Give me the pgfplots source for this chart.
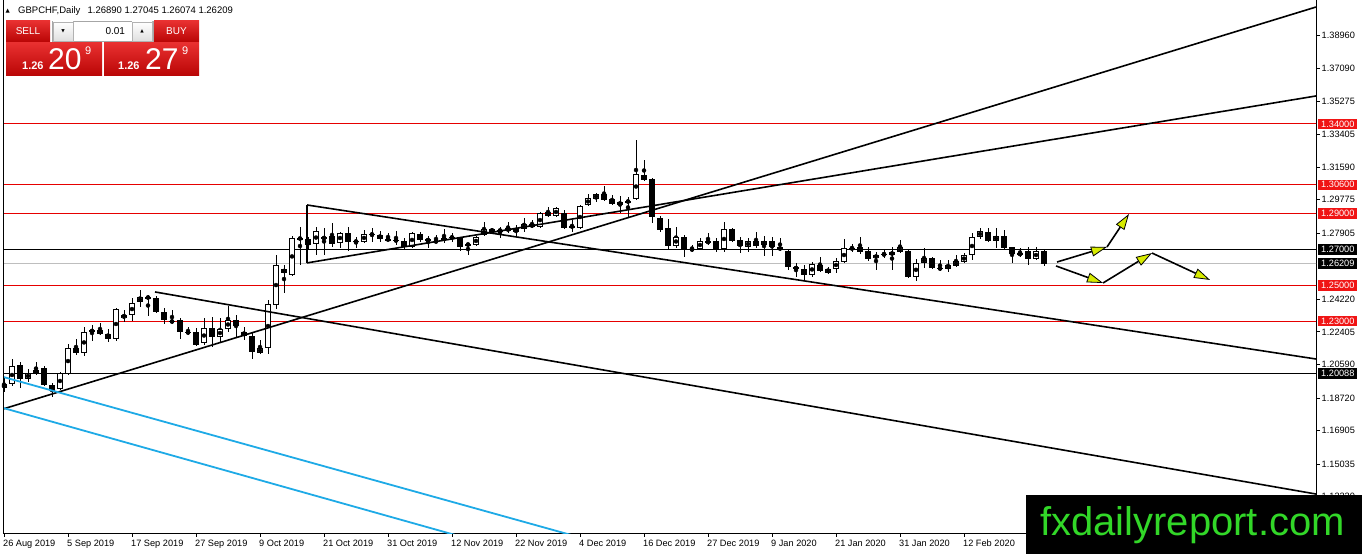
\documentclass[border=0pt]{standalone}
\usepackage{pgfplots}
\pgfplotsset{compat=1.18}
\usepackage{pgfplotstable}
\usepackage{fontspec}
\setmainfont{Liberation Sans}
\newfontfamily\djv{DejaVu Sans}
\usetikzlibrary{arrows.meta}
\definecolor{lvlred}{RGB}{230,0,0}
\definecolor{boxred}{RGB}{240,20,20}
\definecolor{cyanl}{RGB}{30,170,230}
\definecolor{curgray}{RGB}{190,190,190}
\definecolor{arrowyel}{RGB}{215,235,0}
\definecolor{btntop}{RGB}{232,48,48}
\definecolor{btnbot}{RGB}{185,5,5}
\definecolor{logogreen}{RGB}{50,215,40}

\pgfplotstableread{
x o h l c
0 1.1927 1.1989 1.1905 1.1950
1 1.1950 1.2089 1.1938 1.2050
2 1.2056 1.2072 1.1927 1.1978
3 1.1978 1.2033 1.1961 1.2011
4 1.2011 1.2072 1.2000 1.2028
5 1.2039 1.2050 1.1938 1.1944
6 1.1944 1.1955 1.1877 1.1911
7 1.1922 1.2017 1.1916 1.2011
8 1.2005 1.2173 1.2000 1.2150
9 1.2150 1.2201 1.2111 1.2123
10 1.2123 1.2268 1.2106 1.2240
11 1.2251 1.2279 1.2189 1.2240
12 1.2251 1.2290 1.2223 1.2228
13 1.2228 1.2256 1.2184 1.2201
14 1.2201 1.2373 1.2189 1.2368
15 1.2318 1.2362 1.2295 1.2334
16 1.2334 1.2429 1.2301 1.2401
17 1.2407 1.2474 1.2379 1.2435
18 1.2429 1.2446 1.2329 1.2435
19 1.2429 1.2440 1.2346 1.2351
20 1.2351 1.2373 1.2284 1.2307
21 1.2301 1.2362 1.2284 1.2296
22 1.2307 1.2318 1.2201 1.2240
23 1.2240 1.2268 1.2223 1.2234
24 1.2240 1.2262 1.2162 1.2167
25 1.2178 1.2318 1.2167 1.2262
26 1.2262 1.2324 1.2156 1.2212
27 1.2212 1.2318 1.2184 1.2256
28 1.2256 1.2385 1.2240 1.2307
29 1.2307 1.2334 1.2212 1.2273
30 1.2240 1.2268 1.2195 1.2217
31 1.2217 1.2234 1.2089 1.2128
32 1.2123 1.2195 1.2117 1.2150
33 1.2150 1.2418 1.2117 1.2396
34 1.2390 1.2669 1.2368 1.2613
35 1.2591 1.2613 1.2457 1.2569
36 1.2558 1.2775 1.2552 1.2764
37 1.2764 1.2825 1.2613 1.2758
38 1.2758 1.2770 1.2697 1.2725
39 1.2730 1.2825 1.2669 1.2803
40 1.2758 1.2820 1.2669 1.2770
41 1.2775 1.2848 1.2714 1.2730
42 1.2736 1.2798 1.2708 1.2792
43 1.2792 1.2825 1.2691 1.2742
44 1.2747 1.2770 1.2708 1.2742
45 1.2742 1.2808 1.2736 1.2787
46 1.2787 1.2820 1.2742 1.2781
47 1.2781 1.2803 1.2742 1.2758
48 1.2758 1.2792 1.2747 1.2753
49 1.2753 1.2803 1.2725 1.2747
50 1.2747 1.2764 1.2703 1.2714
51 1.2714 1.2795 1.2708 1.2792
52 1.2787 1.2798 1.2742 1.2753
53 1.2758 1.2775 1.2708 1.2747
54 1.2747 1.2781 1.2736 1.2742
55 1.2764 1.2814 1.2736 1.2758
56 1.2770 1.2792 1.2742 1.2764
57 1.2764 1.2770 1.2691 1.2714
58 1.2730 1.2736 1.2669 1.2725
59 1.2725 1.2775 1.2722 1.2770
60 1.2781 1.2853 1.2775 1.2814
61 1.2814 1.2820 1.2792 1.2798
62 1.2808 1.2825 1.2764 1.2803
63 1.2803 1.2853 1.2792 1.2820
64 1.2820 1.2836 1.2770 1.2798
65 1.2814 1.2876 1.2798 1.2842
66 1.2842 1.2864 1.2820 1.2825
67 1.2825 1.2909 1.2822 1.2903
68 1.2909 1.2937 1.2881 1.2887
69 1.2887 1.2937 1.2881 1.2931
70 1.2903 1.2920 1.2814 1.2820
71 1.2831 1.2864 1.2798 1.2825
72 1.2820 1.2948 1.2814 1.2942
73 1.2948 1.3009 1.2942 1.2987
74 1.2981 1.3015 1.2965 1.3009
75 1.3009 1.3054 1.2970 1.2976
76 1.2981 1.3004 1.2948 1.2954
77 1.2948 1.2998 1.2903 1.2965
78 1.2965 1.2993 1.2876 1.2970
79 1.2981 1.3310 1.2976 1.3121
80 1.3115 1.3199 1.3082 1.3087
81 1.3093 1.3098 1.2848 1.2881
82 1.2876 1.2887 1.2798 1.2808
83 1.2820 1.2870 1.2703 1.2719
84 1.2719 1.2825 1.2708 1.2770
85 1.2770 1.2781 1.2658 1.2697
86 1.2703 1.2725 1.2686 1.2697
87 1.2703 1.2764 1.2697 1.2747
88 1.2747 1.2792 1.2725 1.2736
89 1.2747 1.2764 1.2686 1.2703
90 1.2703 1.2853 1.2686 1.2814
91 1.2814 1.2820 1.2742 1.2747
92 1.2753 1.2770 1.2680 1.2719
93 1.2714 1.2764 1.2686 1.2747
94 1.2747 1.2798 1.2708 1.2719
95 1.2725 1.2775 1.2664 1.2747
96 1.2747 1.2770 1.2664 1.2714
97 1.2714 1.2764 1.2691 1.2697
98 1.2691 1.2697 1.2585 1.2602
99 1.2602 1.2624 1.2546 1.2591
100 1.2591 1.2613 1.2530 1.2558
101 1.2558 1.2630 1.2546 1.2619
102 1.2613 1.2658 1.2574 1.2580
103 1.2569 1.2602 1.2563 1.2591
104 1.2591 1.2652 1.2569 1.2636
105 1.2630 1.2758 1.2627 1.2708
106 1.2708 1.2730 1.2686 1.2703
107 1.2714 1.2770 1.2675 1.2686
108 1.2691 1.2714 1.2636 1.2647
109 1.2652 1.2686 1.2585 1.2669
110 1.2675 1.2697 1.2652 1.2669
111 1.2669 1.2714 1.2585 1.2686
112 1.2686 1.2753 1.2680 1.2714
113 1.2691 1.2703 1.2541 1.2546
114 1.2549 1.2647 1.2524 1.2624
115 1.2624 1.2708 1.2597 1.2652
116 1.2652 1.2658 1.2591 1.2597
117 1.2597 1.2641 1.2580 1.2591
118 1.2591 1.2641 1.2574 1.2613
119 1.2608 1.2669 1.2602 1.2636
120 1.2630 1.2680 1.2624 1.2669
121 1.2669 1.2792 1.2641 1.2770
122 1.2770 1.2820 1.2758 1.2803
123 1.2798 1.2820 1.2742 1.2747
124 1.2747 1.2820 1.2708 1.2775
125 1.2775 1.2808 1.2703 1.2708
126 1.2714 1.2716 1.2624 1.2675
127 1.2680 1.2708 1.2658 1.2669
128 1.2691 1.2714 1.2613 1.2647
129 1.2647 1.2714 1.2641 1.2691
130 1.26890 1.27045 1.26074 1.26209
}\candles

\tikzset{
  lvlbox/.style={anchor=west, inner xsep=3pt, inner ysep=1.5pt, text height=6.8pt, text depth=0.6pt, text=white, font=\fontsize{9.2}{10}\selectfont, xshift=2pt},
  arr/.style={black, line width=1.6pt, -{Triangle[length=16pt,width=10pt,fill=arrowyel,line width=0.8pt]}},
}

\begin{document}
\begin{tikzpicture}[x=1pt,y=1pt]
\begin{axis}[
  width=1313pt, height=533pt, scale only axis,
  xmin=-0.125, xmax=164, ymin=1.11187, ymax=1.40912,
  axis x line=bottom, axis y line=right,
  axis line style={-, black, line width=0.8pt},
  tick align=outside, major tick length=3.5pt,
  tick style={black, line width=0.8pt},
  xtick={0,8,...,120},
  xticklabels={26 Aug 2019,5 Sep 2019,17 Sep 2019,27 Sep 2019,9 Oct 2019,21 Oct 2019,31 Oct 2019,12 Nov 2019,22 Nov 2019,4 Dec 2019,16 Dec 2019,27 Dec 2019,9 Jan 2020,21 Jan 2020,31 Jan 2020,12 Feb 2020},
  ytick={1.38960,1.37090,1.35275,1.33405,1.31590,1.29775,1.27905,1.24220,1.22405,1.20590,1.18720,1.16905,1.15035,1.13220},
  yticklabels={1.38960,1.37090,1.35275,1.33405,1.31590,1.29775,1.27905,1.24220,1.22405,1.20590,1.18720,1.16905,1.15035,1.13220},
  ticklabel style={font=\fontsize{9.2}{10}\selectfont},
  xticklabel style={anchor=north west, inner sep=0pt, xshift=-1pt, yshift=-3.5pt},
  yticklabel style={anchor=west, inner sep=0pt, xshift=2pt},
  clip mode=individual,
  /pgf/number format/assume math mode=true,
]
\coordinate (O) at (rel axis cs:0,0);
% horizontal levels
\addplot[lvlred, line width=1pt] coordinates {(-1,1.34) (165,1.34)};
\addplot[lvlred, line width=1pt] coordinates {(-1,1.306) (165,1.306)};
\addplot[lvlred, line width=1pt] coordinates {(-1,1.29) (165,1.29)};
\addplot[lvlred, line width=1pt] coordinates {(-1,1.25) (165,1.25)};
\addplot[lvlred, line width=1pt] coordinates {(-1,1.23) (165,1.23)};
\addplot[black, line width=0.9pt] coordinates {(-1,1.27) (165,1.27)};
\addplot[black, line width=0.9pt] coordinates {(-1,1.20088) (165,1.20088)};
\addplot[curgray, line width=0.9pt] coordinates {(-1,1.26209) (165,1.26209)};
% candles: wicks
\addplot[only marks, mark=none, error bars/.cd, y dir=both, y explicit, error mark=none,
  error bar style={draw=black, line width=0.9pt}]
  table[x=x, y expr={(\thisrow{h}+\thisrow{l})/2}, y error expr={(\thisrow{h}-\thisrow{l})/2}] {\candles};
% bodies
\addplot[only marks, mark=none, error bars/.cd, y dir=both, y explicit, error mark=none,
  error bar style={draw=black, line width=5.5pt}]
  table[x=x, y expr={(\thisrow{o}+\thisrow{c})/2}, y error expr={max(abs(\thisrow{o}-\thisrow{c})/2,0.0003)}] {\candles};
\addplot[only marks, mark=none, error bars/.cd, y dir=both, y explicit, error mark=none,
  error bar style={draw=white, line width=3.7pt}]
  table[x=x, y expr={(\thisrow{o}+\thisrow{c})/2}, y error expr={max((\thisrow{c}-\thisrow{o})/2-0.0005,0)}] {\candles};
% trend lines
\addplot[black, line width=1.6pt] coordinates {(-0.5,1.1805) (164,1.4052)};
\addplot[black, line width=1.6pt] coordinates {(37.875,1.2625) (164,1.3556)};
\addplot[black, line width=1.6pt] coordinates {(37.875,1.2948) (164,1.2089)};
\addplot[black, line width=1.6pt] coordinates {(37.875,1.2948) (37.875,1.2625)};
\addplot[black, line width=1.6pt] coordinates {(18.875,1.2463) (164,1.1336)};
\addplot[cyanl, line width=1.8pt] coordinates {(-0.5,1.1994) (71.5,1.1100)};
\addplot[cyanl, line width=1.8pt] coordinates {(-0.5,1.1821) (57,1.1100)};
% projection arrows
\addplot[arr] coordinates {(131.625,1.2630) (137.875,1.2714)};
\addplot[arr] coordinates {(137.875,1.2714) (140.625,1.2898)};
\addplot[arr] coordinates {(131.5,1.2608) (137.375,1.2513)};
\addplot[arr] coordinates {(137.375,1.2513) (143.5,1.2680)};
\addplot[arr] coordinates {(143.5,1.2680) (150.75,1.2530)};
% level labels
\node[lvlbox, fill=boxred] at (axis cs:164,1.34) {1.34000};
\node[lvlbox, fill=boxred] at (axis cs:164,1.306) {1.30600};
\node[lvlbox, fill=boxred] at (axis cs:164,1.29) {1.29000};
\node[lvlbox, fill=black] at (axis cs:164,1.27) {1.27000};
\node[lvlbox, fill=black] at (axis cs:164,1.26209) {1.26209};
\node[lvlbox, fill=boxred] at (axis cs:164,1.25) {1.25000};
\node[lvlbox, fill=boxred] at (axis cs:164,1.23) {1.23000};
\node[lvlbox, fill=black] at (axis cs:164,1.20088) {1.20088};
\end{axis}
\pgfresetboundingbox
\begin{scope}[shift={(O)}, xshift=-3pt, yshift=-21pt]
\useasboundingbox (0,0) rectangle (1362,554);
% left frame line
\draw[black, line width=0.8pt] (3,21) -- (3,554);
% title
\node[anchor=base west, inner sep=0pt, font=\djv\fontsize{5.5}{6}\selectfont] at (5.5,541) {▲};
\node[anchor=base west, inner sep=0pt, font=\fontsize{9.5}{11}\selectfont] at (18,540) {GBPCHF,Daily\hspace{4.5pt} 1.26890 1.27045 1.26074 1.26209};
% trading panel
\shade[top color=btntop, bottom color=btnbot] (6,512) rectangle (50,533);
\node[text=white, font=\fontsize{10}{12}\selectfont] at (28,522.5) {SELL};
\draw[gray!70, fill=white] (52,512.5) rectangle (153,532.5);
\shade[top color=white, bottom color=gray!25, draw=gray!60] (53,513) rectangle (73,532);
\node[font=\djv\fontsize{4.5}{5}\selectfont] at (63,522.5) {▼};
\shade[top color=white, bottom color=gray!25, draw=gray!60] (132,513) rectangle (152,532);
\node[font=\djv\fontsize{4.5}{5}\selectfont] at (142,522.5) {▲};
\node[anchor=east, font=\fontsize{10}{12}\selectfont] at (128.5,522.5) {0.01};
\shade[top color=btntop, bottom color=btnbot] (154,512) rectangle (199,533);
\node[text=white, font=\fontsize{10}{12}\selectfont] at (176.5,522.5) {BUY};
\shade[top color=btntop, bottom color=btnbot] (6,478) rectangle (102,511);
\shade[top color=btntop, bottom color=btnbot] (104,478) rectangle (199,511);
\node[anchor=base west, inner sep=0pt, text=white, font=\bfseries\fontsize{11}{12}\selectfont] at (22,484) {1.26};
\node[anchor=base west, inner sep=0pt, text=white, font=\fontsize{30}{32}\selectfont] at (48,484) {20};
\node[anchor=base west, inner sep=0pt, text=white, font=\fontsize{11}{12}\selectfont] at (85,499) {9};
\node[anchor=base west, inner sep=0pt, text=white, font=\bfseries\fontsize{11}{12}\selectfont] at (118,484) {1.26};
\node[anchor=base west, inner sep=0pt, text=white, font=\fontsize{30}{32}\selectfont] at (145,484) {27};
\node[anchor=base west, inner sep=0pt, text=white, font=\fontsize{11}{12}\selectfont] at (182,499) {9};
% logo
\fill[black] (1026,0) rectangle (1362,59);
\node[anchor=base west, inner sep=0pt, text=logogreen, font=\fontsize{40}{44}\selectfont] at (1040,19) {fxdailyreport.com};
\end{scope}
\end{tikzpicture}
\end{document}
